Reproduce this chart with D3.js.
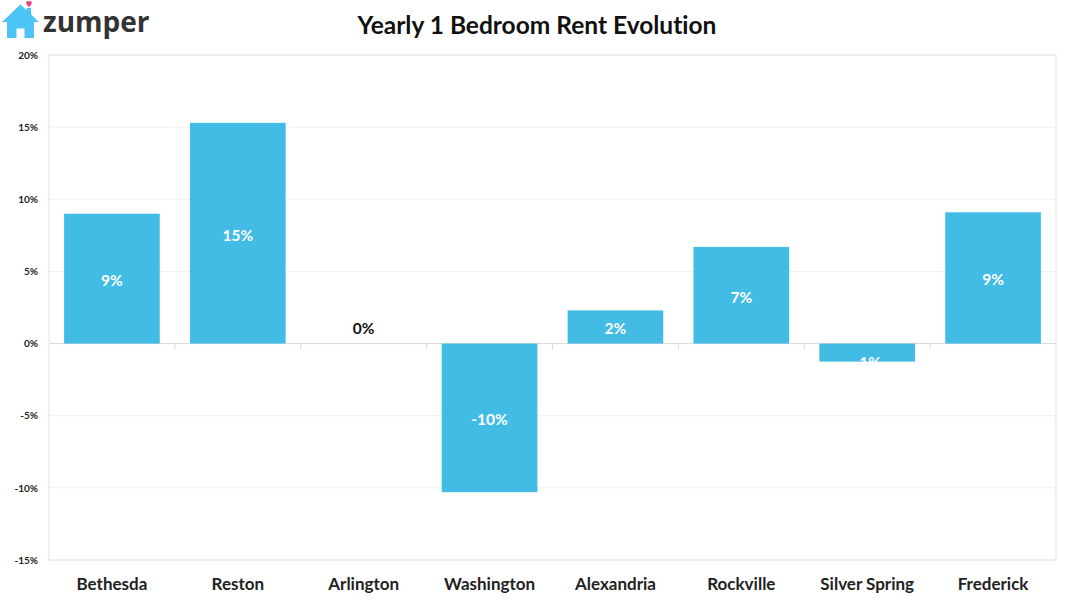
<!DOCTYPE html>
<html>
<head>
<meta charset="utf-8">
<script src="https://cdn.jsdelivr.net/npm/d3@7"></script>
<style>
  body { margin: 0; background: #fff; }
  text { font-family: Lato, "Open Sans", sans-serif; font-weight: bold; font-variant-ligatures: none; }
</style>
</head>
<body>
<div id="chart"></div>
<script>
// data
var cities = ["Bethesda", "Reston", "Arlington", "Washington", "Alexandria", "Rockville", "Silver Spring", "Frederick"];
var rentChange = [9.0, 15.3, 0, -10.3, 2.3, 6.7, -1.25, 9.1];
var shownLabels = ["9%", "15%", "0%", "-10%", "2%", "7%", "-1%", "9%"];
var yTicks = [-15, -10, -5, 0, 5, 10, 15, 20];

var svgWidth = 1068;
var svgHeight = 601;

var margin = { top: 55, bottom: 41, left: 49, right: 12 };
var width = svgWidth - margin.left - margin.right;
var height = svgHeight - margin.top - margin.bottom;

var svg = d3.select("#chart")
  .append("svg")
  .attr("width", svgWidth)
  .attr("height", svgHeight);

var chartGroup = svg.append("g")
  .attr("transform", `translate(${margin.left}, ${margin.top})`);

var xScale = d3.scaleBand()
  .domain(cities)
  .range([0, width])
  .paddingInner(0.24)
  .paddingOuter(0.12);

var yScale = d3.scaleLinear()
  .domain([-15, 20])
  .range([height, 0]);

// gridlines
chartGroup.append("g")
  .selectAll("line")
  .data(yTicks)
  .enter()
  .append("line")
  .attr("x1", 0)
  .attr("x2", width)
  .attr("y1", d => yScale(d))
  .attr("y2", d => yScale(d))
  .attr("stroke", d => d === 0 ? "#d9d9d9" : "#f0f0f0")
  .attr("stroke-width", 1);

// plot area border
chartGroup.append("rect")
  .attr("x", 0)
  .attr("y", 0)
  .attr("width", width)
  .attr("height", height)
  .attr("fill", "none")
  .attr("stroke", "#e3e3e3");

// y axis
var yAxis = d3.axisLeft(yScale)
  .tickValues(yTicks)
  .tickSize(0)
  .tickPadding(11)
  .tickFormat(d => d + "%");

chartGroup.append("g")
  .call(yAxis)
  .call(g => g.select(".domain").remove())
  .selectAll("text")
  .attr("font-size", "10px")
  .attr("fill", "#222")
  .style("font-family", "Lato, sans-serif")
  .style("font-weight", "bold");

// category ticks along the zero line
chartGroup.append("g")
  .selectAll("line")
  .data(d3.range(1, cities.length))
  .enter()
  .append("line")
  .attr("x1", d => d * width / cities.length)
  .attr("x2", d => d * width / cities.length)
  .attr("y1", yScale(0))
  .attr("y2", yScale(0) + 6)
  .attr("stroke", "#d9d9d9");

// bars
chartGroup.selectAll(".bar")
  .data(rentChange)
  .enter()
  .append("rect")
  .attr("class", "bar")
  .attr("x", (d, i) => xScale(cities[i]))
  .attr("width", xScale.bandwidth())
  .attr("y", d => yScale(Math.max(0, d)))
  .attr("height", d => Math.abs(yScale(d) - yScale(0)))
  .attr("fill", "#43bce5");

// value labels
chartGroup.selectAll(".valueText")
  .data(rentChange)
  .enter()
  .append("text")
  .attr("class", "valueText")
  .attr("x", (d, i) => xScale(cities[i]) + xScale.bandwidth() / 2)
  .attr("y", function(d) {
    if (d === 0) return yScale(0) - 15;
    var barH = Math.abs(yScale(d) - yScale(0));
    if (barH < 24) return yScale(0) + 19;
    return yScale(d / 2) + 2;
  })
  .attr("dy", "0.35em")
  .attr("text-anchor", "middle")
  .attr("font-size", "15.5px")
  .attr("fill", d => d === 0 ? "#111" : "#fff")
  .text((d, i) => shownLabels[i]);

// x axis labels
var xAxis = d3.axisBottom(xScale).tickSize(0).tickPadding(18);
chartGroup.append("g")
  .attr("transform", `translate(0, ${height})`)
  .call(xAxis)
  .call(g => g.select(".domain").remove())
  .selectAll("text")
  .attr("font-size", "17px")
  .attr("fill", "#222")
  .style("font-family", "Lato, sans-serif")
  .style("font-weight", "bold");

// title
svg.append("text")
  .attr("x", 537)
  .attr("y", 34)
  .attr("text-anchor", "middle")
  .attr("font-size", "24.5px")
  .attr("fill", "#111")
  .text("Yearly 1 Bedroom Rent Evolution");

// zumper logo
var logo = svg.append("g");
logo.append("path")
  .attr("d", "M2,22 L20.5,4.5 L26.5,10.2 L26.5,8 L31,8 L31,14.5 L39,22 L34,22 L34,38 L24.5,38 L24.5,28.5 L16.5,28.5 L16.5,38 L7,38 L7,22 Z")
  .attr("fill", "#4cc4f5");
logo.append("path")
  .attr("d", "M29,7 C26,4.5 25.5,1.5 27.5,1 C28.5,0.8 29,1.6 29,2 C29,1.6 29.5,0.8 30.5,1 C32.5,1.5 32,4.5 29,7 Z")
  .attr("fill", "#ef3f7a");
logo.append("text")
  .attr("x", 43)
  .attr("y", 32)
  .attr("font-size", "28px")
  .attr("fill", "#333")
  .style("font-family", "'Open Sans', sans-serif")
  .style("font-weight", "bold")
  .text("zumper");
</script>
</body>
</html>
